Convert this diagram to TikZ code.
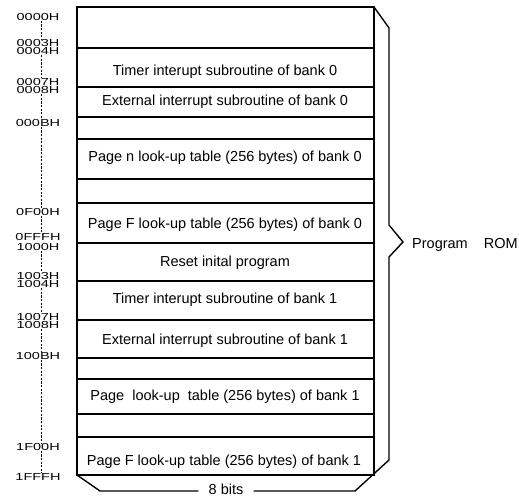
\documentclass[tikz,border=0pt]{standalone}
\usepackage{fontspec}
\setmainfont{Liberation Sans}
\usepackage{graphicx}
\tikzset{
  cell/.style={draw=black,line width=1.4pt},
  celltext/.style={font=\fontsize{14.5}{16}\selectfont,inner sep=0pt},
  addr/.style={font=\fontsize{14.5}{16}\selectfont,inner sep=0pt},
  spinedash/.style={line width=1pt,dash pattern=on 2.2pt off 1.4pt},
  outline/.style={line width=1.4pt,line join=miter}
}

\begin{document}
\begin{tikzpicture}[x=1pt,y=-1pt]
\useasboundingbox (0,0) rectangle (519,497);
% memory rows
\foreach \ya/\yb in {7/48,48/87,87/117,117/139,139/179,179/203,203/243,243/281,281/320,320/358,358/379,379/414,414/437,437/475}
  \draw[cell] (77,\ya) rectangle (374,\yb);
\node[celltext] (tmr0) at (225,72) {Timer interupt subroutine of bank 0};
\node[celltext] (ext0) at (225,102) {External interrupt subroutine of bank 0};
\node[celltext] (pgn0) at (225,158) {Page n look-up table (256 bytes) of bank 0};
\node[celltext] (pgf0) at (225,225) {Page F look-up table (256 bytes) of bank 0};
\node[celltext] (reset) at (225,263) {Reset inital program};
\node[celltext] (tmr1) at (225,300) {Timer interupt subroutine of bank 1};
\node[celltext] (ext1) at (225,341) {External interrupt subroutine of bank 1};
\node[celltext] (pg1) at (225,397) {Page\ \ look-up\ \ table (256 bytes) of bank 1};
\node[celltext] (pgf1) at (224,462) {Page F look-up table (256 bytes) of bank 1};
% addresses
\coordinate (spine) at (41,0);
\foreach \n/\y in {0000/17,0003/43,0004/51.5,0007/82,0008/90.5,000B/123,0F00/212,0FFF/237,1000/247,1003/276,1004/284.5,1007/317,1008/325.5,100B/356,1F00/447,1FFF/477}
  \node[addr] (a\n) at (38,\y) {\scalebox{1}[0.7]{\n H}};
\foreach \p/\q in {0000/0003,0004/0007,0008/000B,000B/0F00,0F00/0FFF,1000/1003,1004/1007,1008/100B,100B/1F00,1F00/1FFF}
  \draw[spinedash] (a\p.south -| spine) -- (a\q.north -| spine);
% brace and width
\node[celltext,inner xsep=10pt] (bits) at (226,489) {8 bits};
\node[celltext,anchor=west] (rom) at (412,245) {Program\hspace{16pt}ROM};
\draw[outline] (374,7) -- (389,28) -- (389,225) -- (403,242) -- (389,257) -- (389,460) -- (355,491) -- (bits.east |- 0,491);
\draw[outline] (bits.west |- 0,491) -- (100,491) -- (77,475);
\end{tikzpicture}
\end{document}
